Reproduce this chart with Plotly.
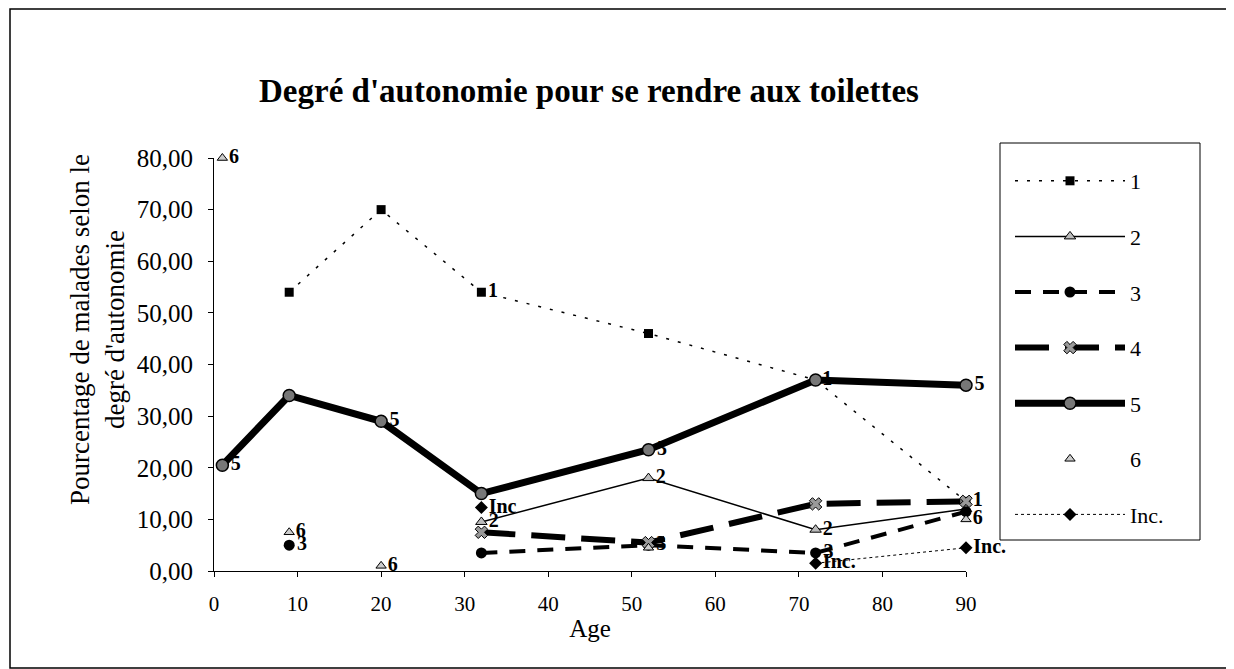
import plotly.graph_objects as go

ages = [1, 9, 20, 32, 52, 72, 90]
s1 = [None, 54, 70, 54, 46, 37, 13.5]
s2 = [None, None, None, 9.5, 18, 8, 12]
s3 = [None, 5, None, 3.5, 5, 3.5, 11.5]
s4 = [None, None, None, 7.5, 5.5, 13, 13.5]
s5 = [20.5, 34, 29, 15, 23.5, 37, 36]
s6 = [80, 7.5, 1, None, 4.5, None, 10]
sinc = [None, None, None, 12.3, None, 1.5, 4.5]

lab1 = ["", "", "", "1", "", "1", "1"]
lab2 = ["", "", "", "2", "2", "2", ""]
lab3 = ["", "3", "", "", "3", "3", ""]
lab4 = ["", "", "", "", "", "", ""]
lab5 = ["5", "", "5", "", "5", "", "5"]
lab6 = ["6", "6", "6", "", "", "", "6"]
labinc = ["", "", "", "Inc", "", "Inc.", "Inc."]

yticks = [0, 10, 20, 30, 40, 50, 60, 70, 80]
xticks = [0, 10, 20, 30, 40, 50, 60, 70, 80, 90]

serif = "Liberation Serif"
lblfont = dict(family=serif, size=20, color="black", weight="bold")

# page offset (browser body margin) and figure size
OFF = 8
W, H = 1234 - OFF, 669 - OFF
# plot area in screen pixels
SX0, SX1, SY0, SY1 = 214, 966, 158, 571
PX0, PX1, PY0, PY1 = SX0 - OFF, SX1 - OFF, SY0 - OFF, SY1 - OFF
PW, PH = PX1 - PX0, PY1 - PY0

def px(xs):
    return (xs - OFF - PX0) / PW

def py(ys):
    return (PY1 - (ys - OFF)) / PH

fig = go.Figure()

def add(name, y, labels, mode, line, marker, gid):
    fig.add_trace(go.Scatter(
        x=ages, y=y, name=name, mode=mode, text=labels,
        textposition="middle right", textfont=lblfont,
        line=line, marker=marker, connectgaps=False,
        legendgroup=gid, cliponaxis=False))

add("1", s1, lab1, "lines+markers+text",
    dict(color="black", width=1.5, dash="3px,9px"),
    dict(symbol="square", size=9, color="black"), "g1")
add("2", s2, lab2, "lines+markers+text",
    dict(color="black", width=1.5),
    dict(symbol="triangle-up", size=10, color="#bbbbbb", line=dict(color="black", width=1)), "g2")
add("3", s3, lab3, "lines+markers+text",
    dict(color="black", width=4, dash="16px,12px"),
    dict(symbol="circle", size=11, color="black"), "g3")
add("4", s4, lab4, "lines+markers+text",
    dict(color="black", width=6, dash="34px,16px"),
    dict(symbol="x", size=11, color="#999999", line=dict(color="black", width=1)), "g4")
add("5", s5, lab5, "lines+markers+text",
    dict(color="black", width=7),
    dict(symbol="circle", size=12, color="#777777", line=dict(color="black", width=1.5)), "g5")
add("6", s6, lab6, "markers+text",
    None,
    dict(symbol="triangle-up", size=9, color="#cccccc", line=dict(color="black", width=1)), "g6")
add("Inc.", sinc, labinc, "lines+markers+text",
    dict(color="black", width=1, dash="dot"),
    dict(symbol="diamond", size=10, color="black"), "g7")

fig.update_layout(
    width=W, height=H,
    paper_bgcolor="white", plot_bgcolor="white",
    margin=dict(l=PX0, r=W - PX1, t=PY0, b=H - PY1, autoexpand=False),
    font=dict(family=serif, color="black"),
    separators=",.",
    showlegend=True,
    title=dict(text="<b>Degré d'autonomie pour se rendre aux toilettes</b>",
               x=(589 - OFF) / W, xanchor="center", y=1 - (90 - OFF) / H, yanchor="middle",
               font=dict(family=serif, size=33, color="black")),
    legend=dict(x=px(1010), xanchor="left", y=py(160), yanchor="top",
                borderwidth=0, bgcolor="rgba(0,0,0,0)",
                font=dict(family=serif, size=22, color="black"),
                tracegroupgap=24, itemwidth=110, maxheight=1.0),
    xaxis=dict(range=[0, 90], tickvals=xticks, ticktext=[str(v) for v in xticks],
               automargin=False,
               showgrid=False, zeroline=False, showline=True, linecolor="black", linewidth=1,
               ticks="outside", ticklen=5, tickcolor="black",
               ticklabelstandoff=9,
               tickfont=dict(family=serif, size=21, color="black"),
               title=dict(text="Age", font=dict(family=serif, size=25, color="black"), standoff=4)),
    yaxis=dict(range=[0, 80], tickvals=yticks, tickformat=".2f",
               automargin=False,
               showgrid=False, zeroline=False, showline=True, linecolor="black", linewidth=1,
               ticks="outside", ticklen=5, tickcolor="black",
               ticklabelstandoff=10,
               tickfont=dict(family=serif, size=25, color="black")),
)

# y-axis title (placed above the plot-area centre as in the reference)
fig.add_annotation(text="Pourcentage de malades selon le<br>degré d'autonomie",
                   xref="paper", yref="paper", x=px(97), y=py(330),
                   xanchor="center", yanchor="middle", textangle=-90, showarrow=False,
                   font=dict(family=serif, size=27, color="black"))

# outer chart frame
fig.add_shape(type="rect", xref="paper", yref="paper",
              x0=px(10), x1=px(1229), y0=py(668), y1=py(OFF + 1),
              line=dict(color="black", width=1.5), fillcolor="rgba(0,0,0,0)", layer="below")
# legend frame
fig.add_shape(type="rect", xref="paper", yref="paper",
              x0=px(1000), x1=px(1200), y0=py(540), y1=py(143),
              line=dict(color="black", width=1), fillcolor="rgba(0,0,0,0)", layer="below")

fig.write_html("out.html")
